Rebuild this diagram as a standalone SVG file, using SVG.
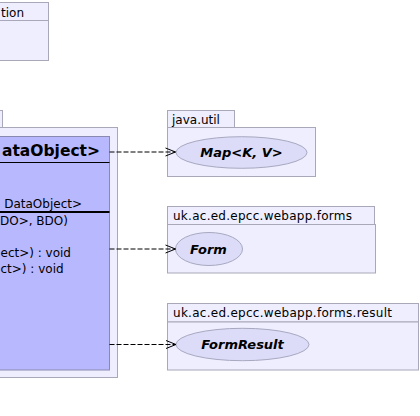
<svg xmlns="http://www.w3.org/2000/svg" width="420" height="416" viewBox="0 0 420 416">
<defs>
<style>
.pkg{fill:#eeeeff;stroke:#a8a8b8;stroke-width:1}
.cls{fill:#b8b8ff;stroke:#8a8ab0;stroke-width:1}
.ell{fill:#dcdcf8;stroke:#a8a8c0;stroke-width:1}
.plabel{font-family:"DejaVu Sans",sans-serif;font-size:12px;fill:#000}
.ctext{font-family:"DejaVu Sans",sans-serif;font-size:12px;fill:#000}
.cname{font-family:"DejaVu Sans",sans-serif;font-size:15.5px;font-weight:bold;fill:#000}
.iname{font-family:"DejaVu Sans",sans-serif;font-size:13px;font-weight:bold;font-style:italic;fill:#000}
.dep{stroke:#000;stroke-width:1;fill:none;stroke-dasharray:5,2}
.head{stroke:#000;stroke-width:1;fill:none}
</style>
</defs>
<g id="pkg-top">
<rect class="pkg" x="-10" y="2.5" width="58.5" height="58"/>
<line x1="-10" y1="20.5" x2="48.5" y2="20.5" stroke="#a8a8b8"/>
<text class="plabel" x="24" y="16.5" text-anchor="end">tion</text>
</g>
<g id="pkg-main">
<rect class="pkg" x="-10" y="110.5" width="12.5" height="17"/>
<rect class="pkg" x="-10" y="127.5" width="127.5" height="250"/>
</g>
<g id="class-main">
<rect class="cls" x="-10" y="136.5" width="119.5" height="233.5"/>
<line x1="-10" y1="162.5" x2="109.5" y2="162.5" stroke="#000"/>
<line x1="-10" y1="212" x2="109.5" y2="212" stroke="#000" stroke-width="2"/>
<text class="cname" x="100" y="155.5" text-anchor="end">ataObject&gt;</text>
<text class="ctext" x="82" y="207.5" text-anchor="end">DataObject&gt;</text>
<text class="ctext" x="0" y="225">DO&gt;, BDO)</text>
<text class="ctext" x="0.5" y="257">ect&gt;) : void</text>
<text class="ctext" x="0.5" y="273">ct&gt;) : void</text>
</g>
<g id="pkg-java-util">
<rect class="pkg" x="167.5" y="110.5" width="67" height="17"/>
<rect class="pkg" x="167.5" y="127.5" width="148" height="49"/>
<text class="plabel" x="172" y="123.5">java.util</text>
</g>
<g id="iface-map">
<ellipse class="ell" cx="241.5" cy="152.5" rx="65.5" ry="15.8"/>
<text class="iname" x="241.5" y="157" text-anchor="middle">Map&lt;K, V&gt;</text>
</g>
<g id="pkg-forms">
<rect class="pkg" x="167.5" y="206.5" width="207" height="18"/>
<rect class="pkg" x="167.5" y="224.5" width="208" height="48.5"/>
<text class="plabel" x="173" y="219.5" textLength="179" lengthAdjust="spacing">uk.ac.ed.epcc.webapp.forms</text>
</g>
<g id="iface-form">
<ellipse class="ell" cx="209" cy="249" rx="33.5" ry="16.5"/>
<text class="iname" x="208.5" y="253.5" text-anchor="middle">Form</text>
</g>
<g id="pkg-forms-result">
<rect class="pkg" x="167.5" y="303.5" width="251" height="18.5"/>
<rect class="pkg" x="167.5" y="322" width="251" height="48"/>
<text class="plabel" x="173" y="317" textLength="219" lengthAdjust="spacing">uk.ac.ed.epcc.webapp.forms.result</text>
</g>
<g id="iface-formresult">
<ellipse class="ell" cx="242.5" cy="344.5" rx="66.5" ry="16.2"/>
<text class="iname" x="242.5" y="349" text-anchor="middle">FormResult</text>
</g>
<g id="connectors">
<line class="dep" x1="109.5" y1="152" x2="175.5" y2="152"/>
<polyline class="head" points="165.5,148 175.5,152 165.5,156"/>
<line class="dep" x1="109.5" y1="249" x2="175.5" y2="249"/>
<polyline class="head" points="165.5,245 175.5,249 165.5,253"/>
<line class="dep" x1="109.5" y1="344.5" x2="176" y2="344.5"/>
<polyline class="head" points="166,340.5 176,344.5 166,348.5"/>
</g>
</svg>
